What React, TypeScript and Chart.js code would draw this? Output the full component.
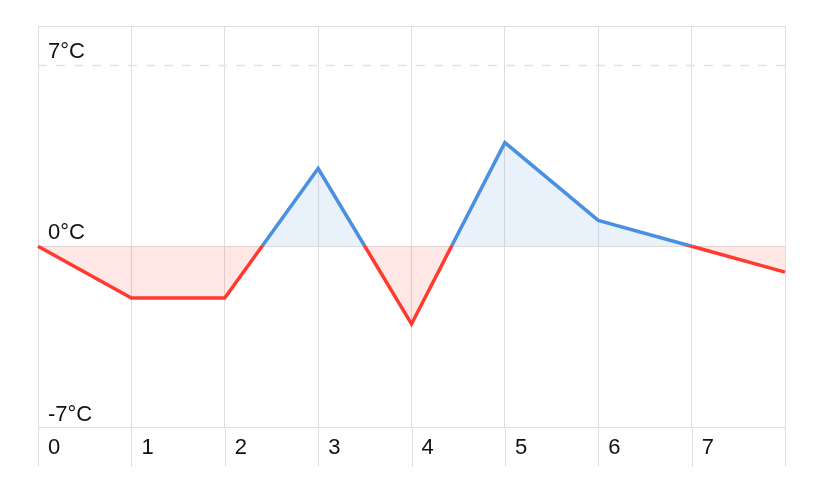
import React, { useEffect, useRef } from "react";
import { Chart, registerables } from "chart.js";

Chart.register(...registerables);

const categories = ["0", "1", "2", "3", "4", "5", "6", "7", ""];
const temperatures = [0, -2, -2, 3, -3, 4, 1, 0, -1];
const yTickValues = [-7, 0, 7, 8.5];
const dashedTickValue = 7;

const BLUE = "#4A90E2";
const RED = "#FF3B30";
const BLUE_FILL = "rgba(74,144,226,0.12)";
const RED_FILL = "rgba(255,59,48,0.12)";
const GRID = "#dedede";
const FONT = "'Liberation Sans', Arial, sans-serif";

const extrasPlugin = {
  id: "extras",
  beforeDatasetsDraw(chart: any) {
    const { ctx, chartArea, scales } = chart;
    const y = Math.round(scales.y.getPixelForValue(dashedTickValue)) + 0.5;
    ctx.save();
    ctx.strokeStyle = "#e2e2e2";
    ctx.lineWidth = 1.5;
    ctx.setLineDash([9, 9]);
    ctx.beginPath();
    ctx.moveTo(chartArea.left, y);
    ctx.lineTo(chartArea.right, y);
    ctx.stroke();
    ctx.setLineDash([]);
    ctx.strokeStyle = GRID;
    ctx.lineWidth = 1;
    const xs = scales.x;
    for (let i = 0; i < xs.ticks.length; i++) {
      const x = Math.round(xs.getPixelForTick(i)) + 0.5;
      ctx.beginPath();
      ctx.moveTo(x, chartArea.bottom);
      ctx.lineTo(x, chartArea.bottom + 39);
      ctx.stroke();
    }
    ctx.restore();
  },
};

export default function App() {
  const ref = useRef<HTMLCanvasElement | null>(null);
  useEffect(() => {
    if (!ref.current) return;
    const chart = new Chart(ref.current, {
      type: "line",
      data: {
        labels: categories,
        datasets: [
          {
            data: temperatures,
            borderWidth: 3.5,
            tension: 0,
            pointRadius: 0,
            pointHoverRadius: 0,
            fill: { target: "origin", above: BLUE_FILL, below: RED_FILL },
            borderColor: (c: any) => {
              const { chart } = c;
              const { chartArea, scales } = chart;
              if (!chartArea) return BLUE;
              const y0 = scales.y.getPixelForValue(0);
              const g = chart.ctx.createLinearGradient(0, chartArea.top, 0, chartArea.bottom);
              const s = Math.min(1, Math.max(0, (y0 - chartArea.top) / (chartArea.bottom - chartArea.top)));
              g.addColorStop(0, BLUE);
              g.addColorStop(s, BLUE);
              g.addColorStop(s, RED);
              g.addColorStop(1, RED);
              return g;
            },
          } as any,
        ],
      },
      options: {
        responsive: false,
        animation: false,
        layout: { padding: { left: 18, right: 35, top: 26, bottom: 22 } },
        plugins: { legend: { display: false }, tooltip: { enabled: false } },
        scales: {
          x: {
            type: "category",
            grid: {
              color: GRID,
              drawTicks: false,
              lineWidth: 1,
            },
            border: { display: true, color: GRID },
            ticks: {
              align: "start",
              labelOffset: 10,
              padding: 7,
              autoSkip: false,
              maxRotation: 0,
              color: "#111",
              font: { family: FONT, size: 22 },
            },
          },
          y: {
            min: -7,
            max: 8.5,
            afterBuildTicks: (axis: any) => {
              axis.ticks = yTickValues.map((v) => ({ value: v }));
            },
            grid: {
              drawTicks: false,
              color: (c: any) => (c.tick && c.tick.value === dashedTickValue ? "rgba(0,0,0,0)" : GRID),
            },
            border: { display: true, color: GRID },
            ticks: {
              mirror: true,
              padding: 10,
              labelOffset: -13,
              color: "#111",
              font: { family: FONT, size: 22 },
              callback: (v: any) => (v === 8.5 ? "" : `${v}°C`),
            },
          },
        },
      },
      plugins: [extrasPlugin],
    });
    return () => chart.destroy();
  }, []);
  return (
    <div style={{ position: "absolute", left: 0, top: 0, width: 820, height: 490, background: "#fff" }}>
      <canvas ref={ref} width={820} height={490} style={{ display: "block" }} />
    </div>
  );
}
